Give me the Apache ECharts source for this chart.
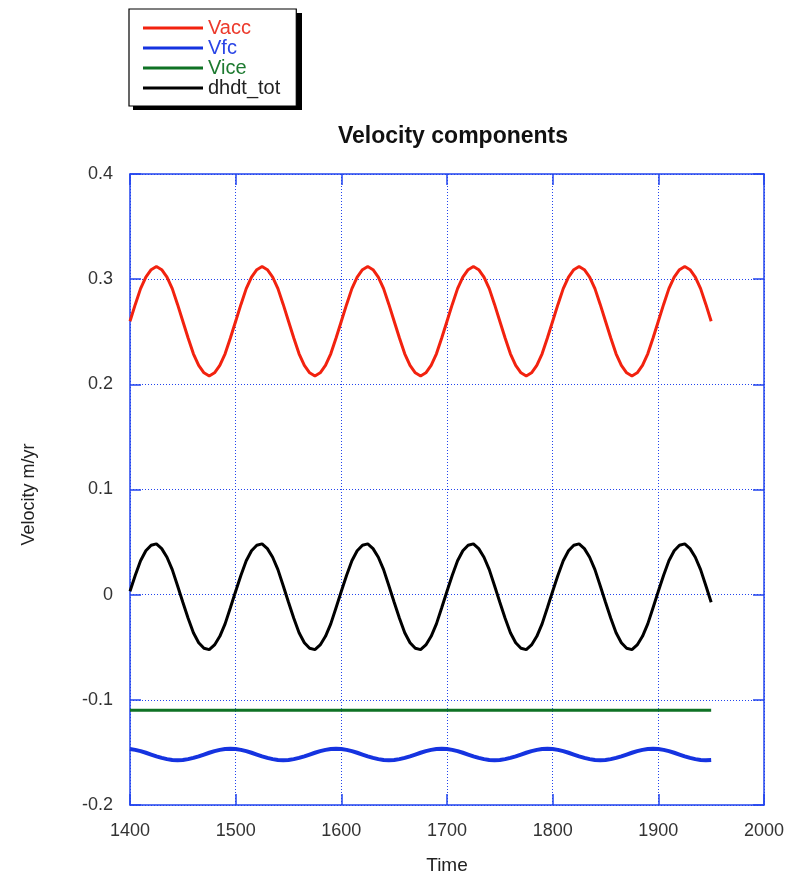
<!DOCTYPE html>
<html>
<head>
<meta charset="utf-8">
<script src="https://cdn.jsdelivr.net/npm/echarts@6/dist/echarts.min.js"></script>
<style>html,body{margin:0;padding:0;background:#fff}#c{width:791px;height:880px}</style>
</head>
<body>
<div id="c"></div>
<script>
const years = [
1400,1405,1410,1415,1420,1425,1430,1435,1440,1445,1450,1455,1460,1465,1470,1475,1480,1485,1490,1495,
1500,1505,1510,1515,1520,1525,1530,1535,1540,1545,1550,1555,1560,1565,1570,1575,1580,1585,1590,1595,
1600,1605,1610,1615,1620,1625,1630,1635,1640,1645,1650,1655,1660,1665,1670,1675,1680,1685,1690,1695,
1700,1705,1710,1715,1720,1725,1730,1735,1740,1745,1750,1755,1760,1765,1770,1775,1780,1785,1790,1795,
1800,1805,1810,1815,1820,1825,1830,1835,1840,1845,1850,1855,1860,1865,1870,1875,1880,1885,1890,1895,
1900,1905,1910,1915,1920,1925,1930,1935,1940,1945,1950];

const vacc = [
0.260,0.276,0.291,0.302,0.309,0.312,0.309,0.302,0.291,0.276,0.260,0.244,0.229,0.218,0.211,0.208,0.211,0.218,0.229,0.244,
0.260,0.276,0.291,0.302,0.309,0.312,0.309,0.302,0.291,0.276,0.260,0.244,0.229,0.218,0.211,0.208,0.211,0.218,0.229,0.244,
0.260,0.276,0.291,0.302,0.309,0.312,0.309,0.302,0.291,0.276,0.260,0.244,0.229,0.218,0.211,0.208,0.211,0.218,0.229,0.244,
0.260,0.276,0.291,0.302,0.309,0.312,0.309,0.302,0.291,0.276,0.260,0.244,0.229,0.218,0.211,0.208,0.211,0.218,0.229,0.244,
0.260,0.276,0.291,0.302,0.309,0.312,0.309,0.302,0.291,0.276,0.260,0.244,0.229,0.218,0.211,0.208,0.211,0.218,0.229,0.244,
0.260,0.276,0.291,0.302,0.309,0.312,0.309,0.302,0.291,0.276,0.260];

const vfc = [
-0.1468,-0.1476,-0.1488,-0.1503,-0.1520,-0.1537,-0.1552,-0.1564,-0.1572,-0.1575,-0.1572,-0.1564,-0.1552,-0.1537,-0.1520,-0.1503,-0.1488,-0.1476,-0.1468,-0.1465,
-0.1468,-0.1476,-0.1488,-0.1503,-0.1520,-0.1537,-0.1552,-0.1564,-0.1572,-0.1575,-0.1572,-0.1564,-0.1552,-0.1537,-0.1520,-0.1503,-0.1488,-0.1476,-0.1468,-0.1465,
-0.1468,-0.1476,-0.1488,-0.1503,-0.1520,-0.1537,-0.1552,-0.1564,-0.1572,-0.1575,-0.1572,-0.1564,-0.1552,-0.1537,-0.1520,-0.1503,-0.1488,-0.1476,-0.1468,-0.1465,
-0.1468,-0.1476,-0.1488,-0.1503,-0.1520,-0.1537,-0.1552,-0.1564,-0.1572,-0.1575,-0.1572,-0.1564,-0.1552,-0.1537,-0.1520,-0.1503,-0.1488,-0.1476,-0.1468,-0.1465,
-0.1468,-0.1476,-0.1488,-0.1503,-0.1520,-0.1537,-0.1552,-0.1564,-0.1572,-0.1575,-0.1572,-0.1564,-0.1552,-0.1537,-0.1520,-0.1503,-0.1488,-0.1476,-0.1468,-0.1465,
-0.1468,-0.1476,-0.1488,-0.1503,-0.1520,-0.1537,-0.1552,-0.1564,-0.1572,-0.1575,-0.1572];

const vice = [
-0.110,-0.110,-0.110,-0.110,-0.110,-0.110,-0.110,-0.110,-0.110,-0.110,-0.110,-0.110,-0.110,-0.110,-0.110,-0.110,-0.110,-0.110,-0.110,-0.110,
-0.110,-0.110,-0.110,-0.110,-0.110,-0.110,-0.110,-0.110,-0.110,-0.110,-0.110,-0.110,-0.110,-0.110,-0.110,-0.110,-0.110,-0.110,-0.110,-0.110,
-0.110,-0.110,-0.110,-0.110,-0.110,-0.110,-0.110,-0.110,-0.110,-0.110,-0.110,-0.110,-0.110,-0.110,-0.110,-0.110,-0.110,-0.110,-0.110,-0.110,
-0.110,-0.110,-0.110,-0.110,-0.110,-0.110,-0.110,-0.110,-0.110,-0.110,-0.110,-0.110,-0.110,-0.110,-0.110,-0.110,-0.110,-0.110,-0.110,-0.110,
-0.110,-0.110,-0.110,-0.110,-0.110,-0.110,-0.110,-0.110,-0.110,-0.110,-0.110,-0.110,-0.110,-0.110,-0.110,-0.110,-0.110,-0.110,-0.110,-0.110,
-0.110,-0.110,-0.110,-0.110,-0.110,-0.110,-0.110,-0.110,-0.110,-0.110,-0.110];

const dhdt = [
0.0032,0.0184,0.0322,0.0417,0.0470,0.0483,0.0438,0.0356,0.0238,0.0085,-0.0072,-0.0224,-0.0362,-0.0457,-0.0510,-0.0523,-0.0478,-0.0396,-0.0278,-0.0125,
0.0032,0.0184,0.0322,0.0417,0.0470,0.0483,0.0438,0.0356,0.0238,0.0085,-0.0072,-0.0224,-0.0362,-0.0457,-0.0510,-0.0523,-0.0478,-0.0396,-0.0278,-0.0125,
0.0032,0.0184,0.0322,0.0417,0.0470,0.0483,0.0438,0.0356,0.0238,0.0085,-0.0072,-0.0224,-0.0362,-0.0457,-0.0510,-0.0523,-0.0478,-0.0396,-0.0278,-0.0125,
0.0032,0.0184,0.0322,0.0417,0.0470,0.0483,0.0438,0.0356,0.0238,0.0085,-0.0072,-0.0224,-0.0362,-0.0457,-0.0510,-0.0523,-0.0478,-0.0396,-0.0278,-0.0125,
0.0032,0.0184,0.0322,0.0417,0.0470,0.0483,0.0438,0.0356,0.0238,0.0085,-0.0072,-0.0224,-0.0362,-0.0457,-0.0510,-0.0523,-0.0478,-0.0396,-0.0278,-0.0125,
0.0032,0.0184,0.0322,0.0417,0.0470,0.0483,0.0438,0.0356,0.0238,0.0085,-0.0072];

const xTickLabels = ['1400','1500','1600','1700','1800','1900','2000'];
const yTickLabels = ['-0.2','-0.1','0','0.1','0.2','0.3','0.4'];

const seriesNames = ['Vacc','Vfc','Vice','dhdt_tot'];
const seriesColors = ['#f2220f','#1533e0','#0f7225','#000000'];
const legendTextColors = ['#ec3a2c','#2a45e6','#1d7a30','#222222'];

const AX = '#2244ee';
const FONT = '"Liberation Sans", Arial, Helvetica, sans-serif';

function pairs(vals){ return years.map((y,i)=>[y, vals[i]]); }
const allVals = [vacc, vfc, vice, dhdt];
const widths = [3, 4, 3, 3];

const chart = echarts.init(document.getElementById('c'), null, {renderer:'canvas'});
const baseX = {
  type:'value', min:1400, max:2000, interval:100,
  axisLine:{show:true, onZero:false, lineStyle:{color:AX, width:1.5}},
  axisTick:{show:true, inside:true, length:11, lineStyle:{color:AX, width:1.5}}
};
const baseY = {
  type:'value', min:-0.2, max:0.4, interval:0.1,
  axisLine:{show:true, onZero:false, lineStyle:{color:AX, width:1.5}},
  axisTick:{show:true, inside:true, length:11, lineStyle:{color:AX, width:1.5}}
};
chart.setOption({
  animation:false,
  backgroundColor:'#ffffff',
  title:{
    text:'Velocity components', left:448, top:120, textAlign:'center',
    textStyle:{fontFamily:FONT, fontSize:23, fontWeight:'bold', color:'#111'}
  },
  graphic:[{
    type:'rect', z:0, silent:true,
    shape:{x:133, y:13, width:169, height:97},
    style:{fill:'#000'}
  }],
  legend:{
    orient:'vertical', left:129, top:9, z:10,
    padding:[9,16,8,14], itemGap:0, itemWidth:60, itemHeight:20,
    symbolKeepAspect:true,
    backgroundColor:'#fff', borderColor:'#000', borderWidth:1.2,
    data: seriesNames.map((n,i)=>({name:n, icon:'path://M0,0L60,0L60,3.2L0,3.2Z', itemStyle:{color:seriesColors[i], borderWidth:0}, textStyle:{color:legendTextColors[i]}})),
    textStyle:{fontFamily:FONT, fontSize:20}
  },
  grid:{left:130, top:174, width:634, height:633, containLabel:false},
  xAxis:[
    Object.assign({}, baseX, {
      position:'bottom',
      name:'Time', nameLocation:'middle', nameGap:51,
      nameTextStyle:{fontFamily:FONT, fontSize:19, color:'#222'},
      axisLabel:{margin:17, fontFamily:FONT, fontSize:18, color:'#333', formatter:(v,i)=>xTickLabels[i]},
      splitLine:{show:true, lineStyle:{color:AX, width:1, type:[1,2]}}
    }),
    Object.assign({}, baseX, {position:'top', axisLabel:{show:false}, splitLine:{show:false}})
  ],
  yAxis:[
    Object.assign({}, baseY, {
      position:'left',
      name:'Velocity m/yr', nameLocation:'middle', nameGap:92,
      nameTextStyle:{fontFamily:FONT, fontSize:18, color:'#222', padding:[0,0,0,-10]},
      axisLabel:{margin:17, fontFamily:FONT, fontSize:18, color:'#333', formatter:(v,i)=>yTickLabels[i]},
      splitLine:{show:true, lineStyle:{color:AX, width:1, type:[1,2]}}
    }),
    Object.assign({}, baseY, {position:'right', axisLabel:{show:false}, splitLine:{show:false}})
  ],
  series: seriesNames.map((n,i)=>({
    name:n, type:'line', xAxisIndex:0, yAxisIndex:0,
    data:pairs(allVals[i]), showSymbol:false, symbol:'none',
    lineStyle:{color:seriesColors[i], width:widths[i]},
    itemStyle:{color:seriesColors[i]}
  }))
});
</script>
</body>
</html>
